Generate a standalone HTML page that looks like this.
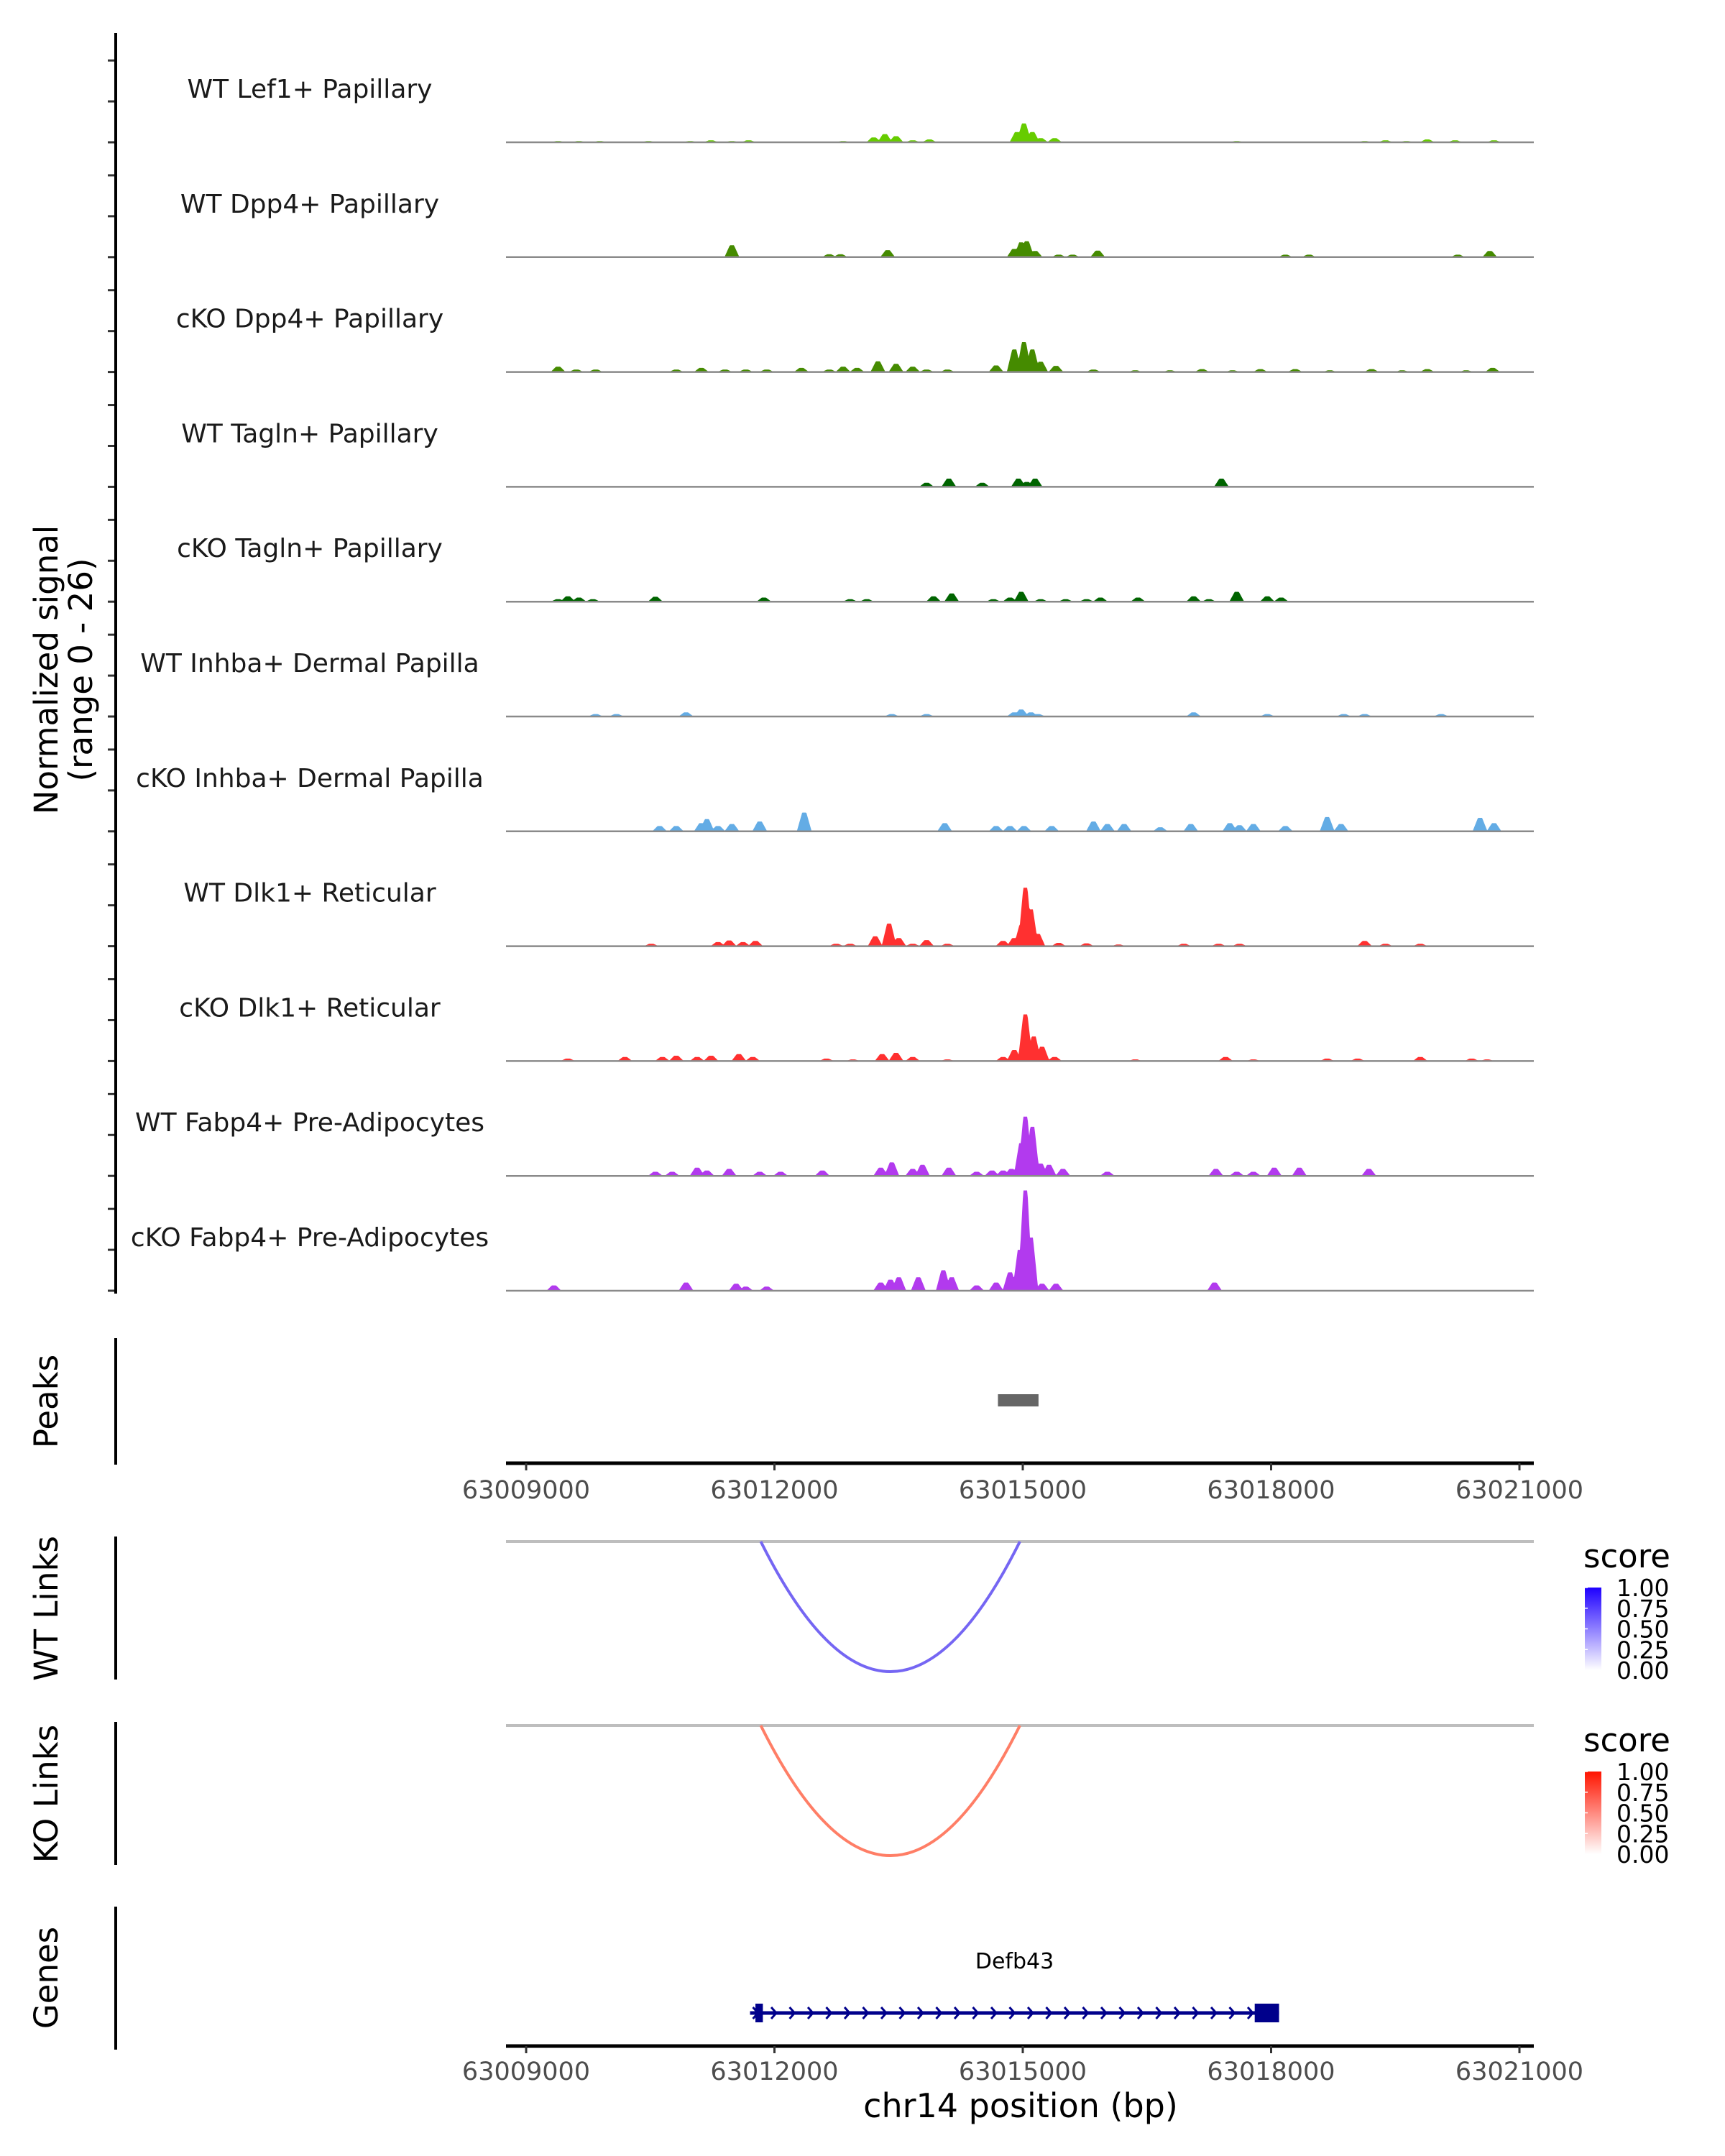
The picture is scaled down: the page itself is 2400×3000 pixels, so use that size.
<!DOCTYPE html>
<html><head><meta charset="utf-8">
<style>
html,body{margin:0;padding:0;background:#fff;}
svg{display:block;font-family:"DejaVu Sans","Liberation Sans",sans-serif;}
</style></head>
<body>
<svg id="chart" width="2400" height="3000" viewBox="0 0 2400 3000" xmlns="http://www.w3.org/2000/svg">
<rect x="0" y="0" width="2400" height="3000" fill="#fff"/>
<g id="tracks"></g>
<g id="axes"></g>
</svg>
<script>
const regionStart = 63009000;
const xTicks = [63009000, 63012000, 63015000, 63018000, 63021000];
const trackNames = ["WT Lef1+ Papillary","WT Dpp4+ Papillary","cKO Dpp4+ Papillary","WT Tagln+ Papillary","cKO Tagln+ Papillary","WT Inhba+ Dermal Papilla","cKO Inhba+ Dermal Papilla","WT Dlk1+ Reticular","cKO Dlk1+ Reticular","WT Fabp4+ Pre-Adipocytes","cKO Fabp4+ Pre-Adipocytes"];
const trackColors = ["#66cc00","#458b00","#458b00","#006400","#006400","#63ace5","#63ace5","#ff3030","#ff3030","#b23aee","#b23aee"];
const signalMax = 26;
// peak positions (bp offset from regionStart) and signal values per track
const pos0 = [386,638,890,1478,1982,2234,2486,2688,3830,4200,4334,4469,4670,4872,5930,6014,6115,6216,6384,8585,10130,10382,10634,10886,11222,11693];
const val0 = [0.3,0.3,0.3,0.3,0.3,0.5,0.3,0.5,0.3,1.2,2.0,1.5,0.5,0.7,2.5,4.6,2.5,1.0,1.0,0.3,0.3,0.5,0.3,0.7,0.5,0.5];
const pos1 = [2486,3662,3797,4368,5897,5981,6048,6149,6434,6602,6905,9173,9458,11256,11642];
const val1 = [2.9,0.7,0.7,1.7,2.0,3.6,3.9,1.5,0.6,0.6,1.6,0.6,0.6,0.6,1.5];
const pos2 = [386,605,840,1814,2117,2402,2654,2906,3326,3662,3830,3998,4250,4469,4670,4838,5090,5678,5897,6014,6115,6216,6401,6854,7358,7778,8165,8534,8870,9290,9710,10214,10584,10886,11357,11676];
const val2 = [1.3,0.6,0.6,0.6,1.0,0.6,0.6,0.6,1.0,0.6,1.3,1.0,2.6,2.0,1.3,0.6,0.6,1.6,5.5,7.3,5.5,2.5,1.5,0.6,0.4,0.4,0.7,0.4,0.7,0.7,0.4,0.7,0.4,0.7,0.4,1.0];
const pos3 = [4838,5107,5510,5947,6048,6149,8400];
const val3 = [1.0,2.0,1.0,2.0,1.2,2.0,2.0];
const pos4 = [386,504,638,806,1562,2873,3914,4116,4922,5141,5645,5846,5981,6216,6518,6770,6938,7392,8064,8249,8585,8954,9122];
const val4 = [0.6,1.3,1.0,0.6,1.2,1.0,0.6,0.6,1.3,2.0,0.6,1.0,2.4,0.6,0.6,0.6,1.0,1.0,1.3,0.6,2.4,1.3,1.0];
const pos5 = [840,1092,1932,4418,4838,5897,5981,6098,6182,8064,8954,9878,10130,11054];
const val5 = [0.6,0.6,1.0,0.6,0.6,1.0,1.7,1.0,0.6,1.0,0.6,0.6,0.6,0.6];
const pos6 = [1613,1814,2117,2184,2318,2486,2822,3360,5057,5678,5846,6014,6350,6854,7022,7224,7661,8030,8501,8618,8786,9173,9677,9845,11524,11693];
const val6 = [1.3,1.3,2.0,3.0,1.3,1.8,2.4,4.6,2.0,1.3,1.3,1.3,1.3,2.4,1.8,1.8,1.0,1.8,2.0,1.5,1.8,1.3,3.5,1.8,3.3,2.0];
const pos7 = [1512,2318,2453,2620,2771,3746,3914,4217,4385,4502,4670,4838,5090,5762,5897,5981,6031,6098,6182,6434,6770,7157,7946,8366,8618,10130,10382,10802];
const val7 = [0.6,1.0,1.4,1.0,1.3,0.6,0.6,2.4,5.5,2.0,0.6,1.5,0.6,1.3,2.0,5.0,14.3,9.0,3.0,0.8,0.7,0.4,0.6,0.6,0.6,1.3,0.6,0.6];
const pos8 = [504,1193,1646,1814,2066,2234,2570,2738,3629,3948,4301,4469,4670,5090,5762,5897,6031,6132,6233,6384,7358,8450,8786,9677,10046,10802,11424,11609];
const val8 = [0.6,1.0,1.0,1.3,1.0,1.3,1.7,1.0,0.6,0.4,1.7,2.0,1.0,0.4,1.0,2.7,11.4,6.0,3.5,1.0,0.4,1.0,0.4,0.6,0.6,1.0,0.6,0.4];
const pos9 = [1562,1764,2066,2184,2453,2822,3074,3578,4284,4418,4670,4788,5107,5443,5628,5762,5863,5981,6031,6115,6216,6317,6485,7022,8333,8585,8786,9038,9341,10181];
const val9 = [1.0,1.0,2.0,1.3,1.7,1.0,1.0,1.3,2.0,3.3,1.7,2.7,2.0,1.0,1.3,1.3,1.7,8.0,14.5,12.0,3.0,2.7,1.7,1.0,1.7,1.0,1.0,2.0,2.0,1.7];
const pos10 = [336,1932,2537,2654,2906,4284,4402,4502,4738,5040,5141,5443,5678,5846,5964,6031,6098,6233,6401,8316];
const val10 = [1.3,2.0,1.7,1.0,1.0,2.0,2.7,3.3,3.3,5.0,3.3,1.3,2.0,4.5,10.0,24.5,13.0,1.7,1.7,2.0];
const trackPos = [pos0,pos1,pos2,pos3,pos4,pos5,pos6,pos7,pos8,pos9,pos10];
const trackVal = [val0,val1,val2,val3,val4,val5,val6,val7,val8,val9,val10];
// peaks track
const peakStarts = [63014700];
const peakEnds = [63015190];
// links
const wtLinkStart = [63011835];
const wtLinkEnd = [63014965];
const wtLinkScore = [0.6];
const koLinkStart = [63011835];
const koLinkEnd = [63014965];
const koLinkScore = [0.6];
const legendLabels = ["1.00","0.75","0.50","0.25","0.00"];
// gene
const geneName = ["Defb43"];
const geneStart = [63011705];
const geneEnd = [63018096];
const exonStarts = [63011770, 63017802];
const exonEnds = [63011860, 63018096];

const NS = "http://www.w3.org/2000/svg";
const X0 = 704, X1 = 2134;
function xScale(bp){ return 732 + (bp - 63009000) * 345.5 / 3000; }
const trackTop0 = 198, trackStep = 159.8, unitPx = 148 / signalMax;
function yScale(i, v){ return trackTop0 + i*trackStep - v*unitPx; }
function mk(tag, attrs, parent){ const e=document.createElementNS(NS,tag); for(const k in attrs) e.setAttribute(k,attrs[k]); parent.appendChild(e); return e; }
const tracks = document.getElementById('tracks');
const axes = document.getElementById('axes');

for(let i=0;i<trackNames.length;i++){
  const base = yScale(i,0);
  const ps = trackPos[i], vs = trackVal[i];
  let d = "M"+X0+","+base;
  for(let x=X0;x<=X1;x+=1){
    const bp = regionStart + (x-732)*3000/345.5;
    let h=0;
    for(let k=0;k<ps.length;k++){
      const dd = Math.abs(bp-(regionStart+ps[k]));
      const w = 90, f = 25;
      let s = dd<=f?1:(dd>=w?0:1-(dd-f)/(w-f));
      if(vs[k]*s>h) h=vs[k]*s;
    }
    d += " L"+x+","+(yScale(i,h)).toFixed(1);
  }
  d += " L"+X1+","+base+" Z";
  const p = mk('path',{d:d,fill:trackColors[i]},tracks);
  
  
  const bl = mk('line',{x1:X0,x2:X1,y1:base,y2:base,stroke:'#8a8a8a','stroke-width':2.5},tracks);
  
  
  const t = mk('text',{x:431,y:base-62,'text-anchor':'middle','font-size':36,fill:'#1a1a1a'},tracks);
  t.textContent = trackNames[i];
  
  
  for(const tv of [0,10,20]){
    const ty = yScale(i,tv);
    const tk = mk('line',{x1:150,x2:161,y1:ty,y2:ty,stroke:'#333','stroke-width':3},axes);
    
    
  }
}
function vline(x,y1,y2,name){ const l=mk('line',{x1:x,x2:x,y1:y1,y2:y2,stroke:'#000','stroke-width':4},axes);   }
vline(161,46,1800,'y-axis-line');
vline(161,1862,2038,'peaks-axis-line');
vline(161,2138,2337,'wt-links-axis-line');
vline(161,2396,2595,'ko-links-axis-line');
vline(161,2653,2852,'genes-axis-line');
function rotText(txt,x,y,name,lines){
  const t=mk('text',{transform:'translate('+x+','+y+') rotate(-90)','text-anchor':'middle','font-size':45,fill:'#000'},axes);
  
  
  if(lines){ lines.forEach((s,j)=>{ const ts=mk('tspan',{x:0,dy:j?48:0},t); ts.textContent=s; }); }
  else t.textContent=txt;
}
rotText('',80,932,'y-axis-title',['Normalized signal','(range 0 - 26)']);
rotText('Peaks',80,1950,'peaks-title');
rotText('WT Links',80,2238,'wt-links-title');
rotText('KO Links',80,2496,'ko-links-title');
rotText('Genes',80,2752,'genes-title');

for(let k=0;k<peakStarts.length;k++){
  const r=mk('rect',{x:xScale(peakStarts[k]),y:1940,width:xScale(peakEnds[k])-xScale(peakStarts[k]),height:17,fill:'#666'},tracks);
  
  
}
function xAxis(y,name,labelY){
  const l=mk('line',{x1:X0,x2:X1,y1:y,y2:y,stroke:'#000','stroke-width':5},axes);
  
  
  for(const tv of xTicks){
    const x=xScale(tv);
    const tk=mk('line',{x1:x,x2:x,y1:y,y2:y+10,stroke:'#333','stroke-width':3},axes);
    
    
    const t=mk('text',{x:x,y:labelY,'text-anchor':'middle','font-size':35,fill:'#4d4d4d'},axes);
    t.textContent=String(tv);
    
    
  }
}
xAxis(2036,'peaks-x-axis',2085);
xAxis(2847,'genes-x-axis',2894);
const xt=mk('text',{x:1420,y:2946,'text-anchor':'middle','font-size':46,fill:'#000'},axes);
xt.textContent='chr14 position (bp)';



function mix(c,s){ return 'rgb('+c.map(v=>Math.round(255+(v-255)*s)).join(',')+')'; }
function links(starts,ends,scores,top,bottom,rgb,name){
  const gl=mk('line',{x1:X0,x2:X1,y1:top,y2:top,stroke:'#bebebe','stroke-width':4},tracks);
  
  
  for(let k=0;k<starts.length;k++){
    const a=xScale(starts[k]), b=xScale(ends[k]);
    const c=2*bottom-top;
    const p=mk('path',{d:'M'+a+','+top+' Q'+((a+b)/2)+','+c+' '+b+','+top,fill:'none',stroke:mix(rgb,scores[k]),'stroke-width':4},tracks);
    
    
  }
}
links(wtLinkStart,wtLinkEnd,wtLinkScore,2145,2326,[25,0,235],'wt-link');
links(koLinkStart,koLinkEnd,koLinkScore,2401,2582,[255,40,0],'ko-link');
function legend(y0,gid,c1,name){
  const defs=mk('defs',{},tracks);
  const g=mk('linearGradient',{id:gid,x1:0,y1:1,x2:0,y2:0},defs);
  mk('stop',{offset:0,'stop-color':'#ffffff'},g);
  mk('stop',{offset:1,'stop-color':c1},g);
  const t=mk('text',{x:2203,y:y0-28,'font-size':45,fill:'#000'},axes);
  t.textContent='score';
  
  
  const r=mk('rect',{x:2205,y:y0,width:23,height:115,fill:'url(#'+gid+')'},axes);
  
  
  legendLabels.forEach((s,j)=>{
    const ly=y0+j*115/4;
    const tt=mk('text',{x:2249,y:ly+12,'font-size':33,fill:'#000'},axes);
    tt.textContent=s;
    
    
    const tk=mk('line',{x1:2205,x2:2209,y1:ly,y2:ly,stroke:'#fff','stroke-width':1.5},axes);
    
    
  });
}
legend(2209,'gWT','#1e00ff','wt-legend');
legend(2465,'gKO','#ff1400','ko-legend');

for(let k=0;k<geneName.length;k++){
  const a=xScale(geneStart[k]), b=xScale(geneEnd[k]), y=2801;
  const l=mk('line',{x1:a,x2:b,y1:y,y2:y,stroke:'#00008b','stroke-width':5},tracks);
  
  
  for(let x=a+4;x<b-20;x+=25.5){
    const c=mk('path',{d:'M'+x+','+(y-8)+' L'+(x+7)+','+y+' L'+x+','+(y+8),fill:'none',stroke:'#00008b','stroke-width':3},tracks);
    
    
  }
  const nt=mk('text',{x:(a+b)/2,y:2739,'text-anchor':'middle','font-size':30,fill:'#000'},tracks);
  nt.textContent=geneName[k];
  
  
}
for(let k=0;k<exonStarts.length;k++){
  const a=xScale(exonStarts[k]), b=xScale(exonEnds[k]);
  const r=mk('rect',{x:a,y:2788,width:Math.max(b-a,8),height:26,fill:'#00008b'},tracks);
  
  
}
</script>
</body></html>
